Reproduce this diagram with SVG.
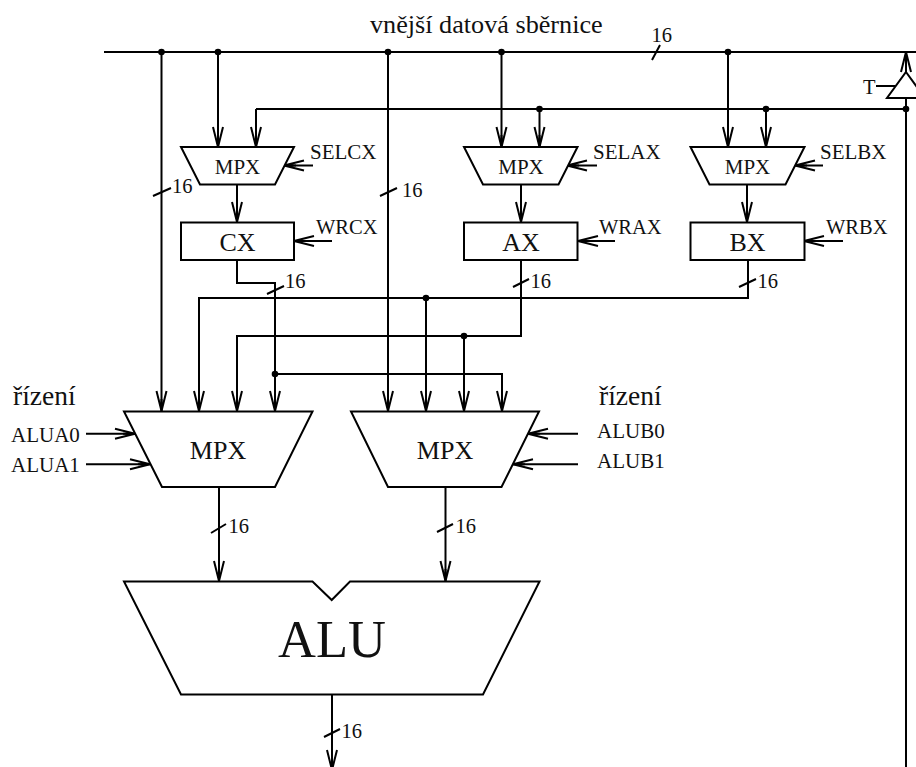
<svg xmlns="http://www.w3.org/2000/svg" width="916" height="767" viewBox="0 0 916 767">
<style>
text{font-family:"Liberation Serif","Times New Roman",serif;fill:#111}
.w{fill:#fff;stroke:#000;stroke-width:2;stroke-linejoin:miter}
.c path,.t{fill:none;stroke:#000;stroke-width:2}
.a{marker-end:url(#ah)}
.s16{font-size:20.5px}.m{font-size:21px;text-anchor:middle}.l{font-size:26px;text-anchor:middle}.g{font-size:20.5px}
circle{fill:#000}
</style>
<defs><marker id="ah" markerUnits="userSpaceOnUse" orient="auto" markerWidth="24" markerHeight="14" refX="22" refY="7" overflow="visible"><path d="M2,2L22,7L2,12M10,7H22" fill="none" stroke="#000" stroke-width="2"/></marker></defs>
<rect width="916" height="767" fill="#fff"/>
<g id="connectors" class="c">
<path d="M104,52H916"/>
<path d="M256,109H906"/>
<path class="a" d="M161.500,52V411"/>
<path class="a" d="M218,52V147"/>
<path class="a" d="M388,52V411"/>
<path class="a" d="M501.500,52V147"/>
<path class="a" d="M728,52V147"/>
<path class="a" d="M256,109V147"/>
<path class="a" d="M539.500,109V147"/>
<path class="a" d="M766,109V147"/>
<path d="M906,98V767"/>
<path class="a" d="M906,72V52"/>
<path d="M876,86H895"/>
<path class="a" d="M237,184V222"/>
<path class="a" d="M521,184V222"/>
<path class="a" d="M747,184V222"/>
<path class="a" d="M313,165.500H284"/>
<path class="a" d="M332,241H294"/>
<path class="a" d="M597,165.500H567"/>
<path class="a" d="M615,241H578"/>
<path class="a" d="M823,165.500H795"/>
<path class="a" d="M843,241H804"/>
<path class="a" d="M237,260V283H275V411"/>
<path class="a" d="M748,260V298H199V411"/>
<path class="a" d="M426,298V411"/>
<path class="a" d="M521,260V336H237V411"/>
<path class="a" d="M464,336V411"/>
<path class="a" d="M275,374H502V411"/>
<path class="a" d="M86,433.700H135"/>
<path class="a" d="M86,464.300H150"/>
<path class="a" d="M578,433.700H528"/>
<path class="a" d="M578,464.300H513"/>
<path class="a" d="M219,487V581"/>
<path class="a" d="M445.500,487V581"/>
<path class="a" d="M332,694V770"/>
<path d="M153,196L171,188M380,196L397,188M267,294L284,286M513,287L529,279M739,287L756,279M652,60L660,45M211,533L226,524M437,532L453,524M324,737L340,729"/>
<circle cx="161.500" cy="52" r="3.300"/><circle cx="218" cy="52" r="3.300"/><circle cx="388" cy="52" r="3.300"/><circle cx="501.500" cy="52" r="3.300"/><circle cx="728" cy="52" r="3.300"/>
<circle cx="539.500" cy="109" r="3.300"/><circle cx="766" cy="109" r="3.300"/><circle cx="906" cy="109" r="3.300"/>
<circle cx="426" cy="298" r="3.300"/><circle cx="464" cy="336" r="3.300"/><circle cx="275" cy="374" r="3.300"/>
</g>
<g id="buffer-t"><path class="w" d="M906,72L925,98H887Z"/><text x="863" y="94" class="g">T</text></g>
<g id="mpx-cx"><path class="w" d="M181,147H294L275,184.500H200Z"/><text x="237.500" y="174" class="m">MPX</text><text x="310" y="158.500" class="m" style="text-anchor:start">SELCX</text></g>
<g id="mpx-ax"><path class="w" d="M464,147H577.500L558.500,184.500H483Z"/><text x="521" y="174" class="m">MPX</text><text x="593" y="158.500" class="m" style="text-anchor:start">SELAX</text></g>
<g id="mpx-bx"><path class="w" d="M690.500,147H804.500L785.500,184.500H709.500Z"/><text x="747.500" y="174" class="m">MPX</text><text x="820" y="158.500" class="m" style="text-anchor:start">SELBX</text></g>
<g id="cx"><rect class="w" x="181" y="222.500" width="113" height="37.500"/><text x="237.500" y="250.500" class="l">CX</text><text x="316" y="234" class="g">WRCX</text></g>
<g id="ax"><rect class="w" x="464" y="222.500" width="113.500" height="37.500"/><text x="521" y="250.500" class="l">AX</text><text x="599" y="234" class="g">WRAX</text></g>
<g id="bx"><rect class="w" x="690.500" y="222.500" width="114" height="37.500"/><text x="747.500" y="250.500" class="l">BX</text><text x="826" y="234" class="g">WRBX</text></g>
<g id="mpx-a"><path class="w" d="M124,411.500H312.500L275,487H162Z"/><text x="218" y="459" class="l">MPX</text><text x="13" y="405" style="font-size:27.500px">řízení</text><text x="11" y="441.700" class="m" style="text-anchor:start">ALUA0</text><text x="11" y="471.700" class="m" style="text-anchor:start">ALUA1</text></g>
<g id="mpx-b"><path class="w" d="M351,411.500H539L501.500,487H388Z"/><text x="445" y="459" class="l">MPX</text><text x="599" y="405" style="font-size:27.500px">řízení</text><text x="597" y="437.500" class="m" style="text-anchor:start">ALUB0</text><text x="597" y="468" class="m" style="text-anchor:start">ALUB1</text></g>
<g id="alu"><path class="w" d="M124,581.500H312.500L331.700,600L350,581.500H539.500L483,694.500H181Z"/><text x="332" y="657" style="font-size:52.500px;text-anchor:middle">ALU</text></g>
<g id="labels"><text x="370" y="33" style="font-size:26.200px">vnější datová sběrnice</text>
<text class="s16" x="651.500" y="41.500">16</text><text class="s16" x="172" y="193">16</text><text class="s16" x="402" y="197">16</text><text class="s16" x="285" y="288">16</text><text class="s16" x="530.500" y="288">16</text><text class="s16" x="757.500" y="288">16</text><text class="s16" x="228.500" y="533">16</text><text class="s16" x="455.500" y="533">16</text><text class="s16" x="341.500" y="737.500">16</text></g>
</svg>
